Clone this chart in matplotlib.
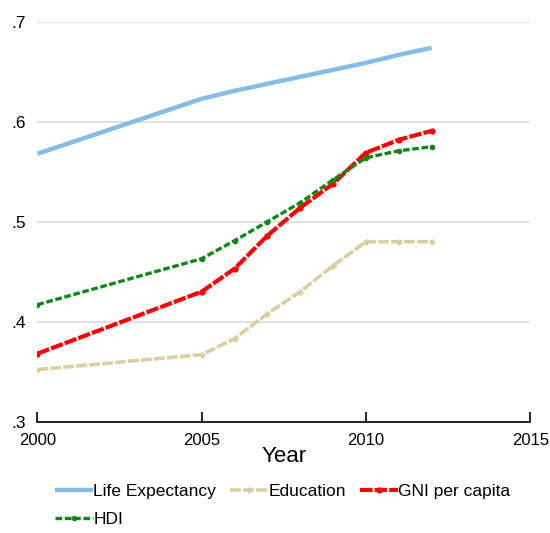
import matplotlib
matplotlib.use("Agg")
import matplotlib.pyplot as plt

plt.rcParams['font.family'] = ['Liberation Sans', 'DejaVu Sans']

years = [2000, 2005, 2006, 2007, 2008, 2009, 2010, 2011, 2012]
life_exp = [0.568, 0.623, 0.631, 0.638, 0.645, 0.652, 0.659, 0.667, 0.674]
education = [0.352, 0.367, 0.383, 0.408, 0.430, 0.456, 0.480, 0.480, 0.480]
gni = [0.368, 0.430, 0.453, 0.486, 0.514, 0.538, 0.569, 0.582, 0.591]
hdi = [0.417, 0.463, 0.481, 0.500, 0.519, 0.542, 0.564, 0.571, 0.575]

xticks = [2000, 2005, 2010, 2015]
yticks = [0.3, 0.4, 0.5, 0.6, 0.7]
ylabels = ['.3', '.4', '.5', '.6', '.7']

fig = plt.figure(figsize=(5.5, 5.33), dpi=100)
ax = fig.add_axes([0.068, 0.209, 0.896, 0.75])

l1, = ax.plot(years, life_exp, color='#86bde6', lw=3.2, solid_capstyle='butt',
              label='Life Expectancy')
l2, = ax.plot(years, education, color='#d9d0a2', lw=2.6, linestyle=(0, (3, 0.6)),
              marker='P', markersize=3.5, label='Education')
l3, = ax.plot(years, gni, color='#ff0000', lw=3, linestyle=(0, (3, 0.5)),
              marker='o', markersize=3.5, label='GNI per capita')
l4, = ax.plot(years, hdi, color='#10851a', lw=2.4, linestyle=(0, (2, 0.8)),
              marker='o', markersize=3, label='HDI')

ax.set_xlim(2000, 2015)
ax.set_ylim(0.3, 0.7)
ax.set_xticks(xticks)
ax.set_yticks(yticks)
ax.set_yticklabels(ylabels)
ax.grid(axis='y', color='#dcdcdc', lw=1.2)
ax.set_axisbelow(True)

for s in ['top', 'right', 'left']:
    ax.spines[s].set_visible(False)
ax.spines['bottom'].set_color('black')
ax.spines['bottom'].set_linewidth(1.2)
ax.spines['bottom'].set_zorder(5)

ax.tick_params(axis='x', direction='in', length=7, width=1.2, pad=8,
               labelsize=12, colors='black')
ax.tick_params(axis='y', length=0, pad=8, labelsize=12.5)

ax.set_xlabel('Year', fontsize=16, labelpad=-1)

# column-major order so that the rows read Life, Education, GNI / HDI
leg = fig.legend([l1, l4, l2, l3],
                 ['Life Expectancy', 'HDI', 'Education', 'GNI per capita'],
                 loc='lower left', bbox_to_anchor=(0.072, -0.018), ncol=3,
                 frameon=False, fontsize=12.5, handlelength=2.2,
                 handletextpad=0.0, columnspacing=0.8, labelspacing=0.75)

fig.savefig('out.png', dpi=100)
